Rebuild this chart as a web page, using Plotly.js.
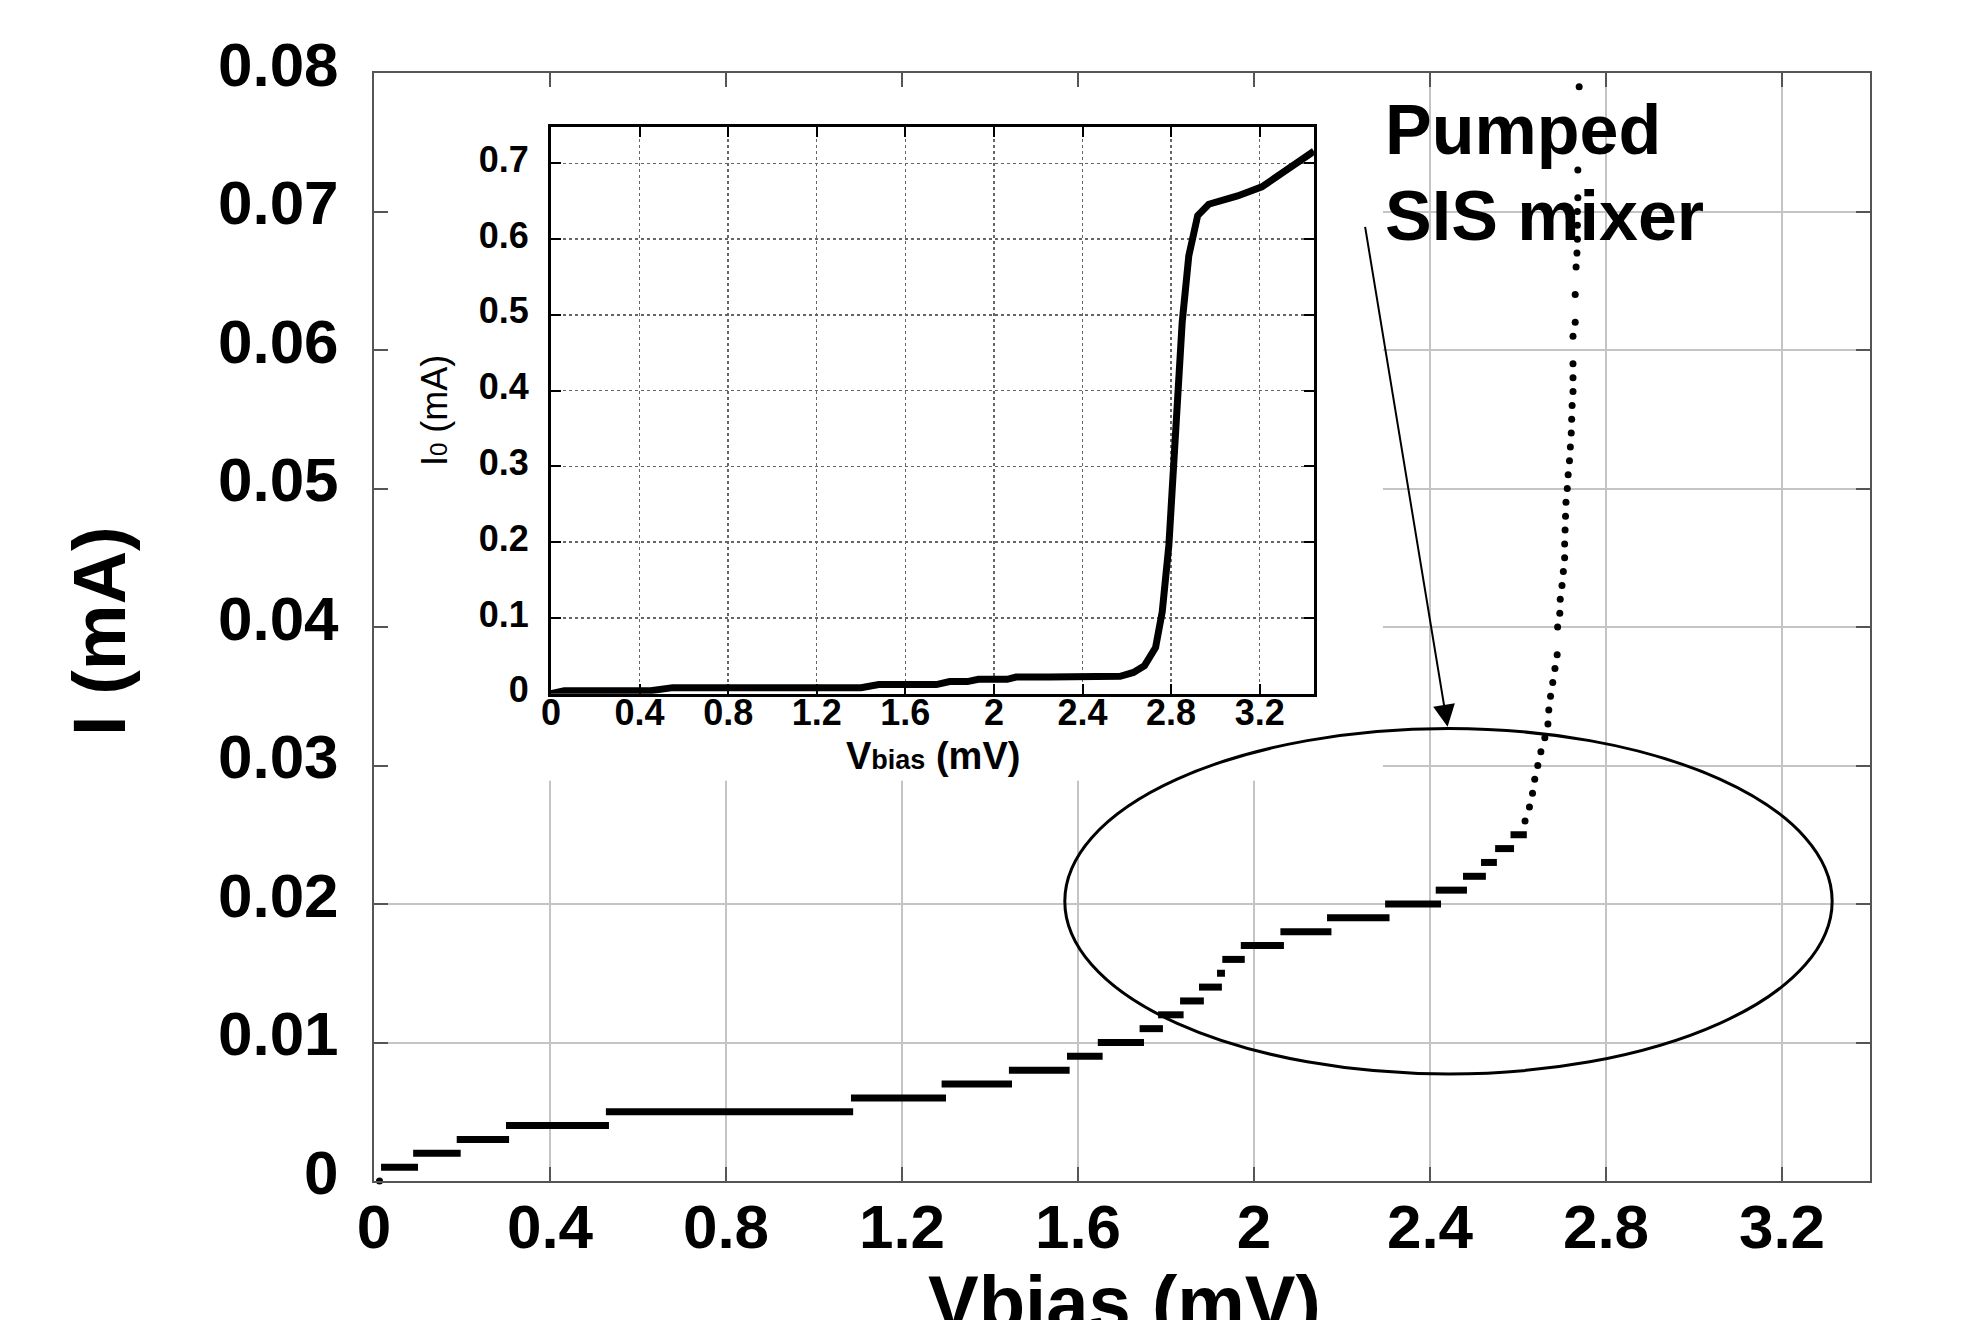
<!DOCTYPE html>
<html>
<head>
<meta charset="utf-8">
<script src="https://cdn.plot.ly/plotly-3.0.1.min.js"></script>
<style>html,body{margin:0;padding:0;background:#fff;}#chart{width:1974px;height:1320px;}</style>
</head>
<body>
<div id="chart"></div>
<script>
// ---- Main plot: pumped SIS mixer I-V (quantized current steps, mA) ----
const stepStart = [0.016, 0.089, 0.188, 0.300, 0.527, 1.084, 1.290, 1.443, 1.575, 1.645, 1.740, 1.782, 1.832, 1.875, 1.916, 1.928, 1.970, 2.060, 2.166, 2.298, 2.413, 2.475, 2.516, 2.548, 2.583];
const stepEnd   = [0.100, 0.197, 0.307, 0.534, 1.089, 1.300, 1.450, 1.581, 1.656, 1.750, 1.793, 1.840, 1.886, 1.927, 1.934, 1.979, 2.068, 2.176, 2.308, 2.425, 2.484, 2.527, 2.552, 2.591, 2.620];
const stepLevel = [0.001, 0.002, 0.003, 0.004, 0.005, 0.006, 0.007, 0.008, 0.009, 0.010, 0.011, 0.012, 0.013, 0.014, 0.015, 0.016, 0.017, 0.018, 0.019, 0.020, 0.021, 0.022, 0.023, 0.024, 0.025];

const dotV = [0.0125, 2.616, 2.626, 2.633, 2.638, 2.645, 2.652, 2.661, 2.668, 2.670, 2.674, 2.679, 2.684, 2.689, 2.690, 2.695, 2.696, 2.700, 2.703, 2.706, 2.706, 2.707, 2.708, 2.709, 2.712, 2.714, 2.717, 2.719, 2.721, 2.722, 2.723, 2.725, 2.725, 2.725, 2.725, 2.730, 2.730, 2.732, 2.734, 2.735, 2.735, 2.735, 2.736, 2.736, 2.739];
const dotI = [0.000, 0.026, 0.027, 0.028, 0.029, 0.030, 0.031, 0.032, 0.033, 0.034, 0.035, 0.036, 0.037, 0.038, 0.040, 0.041, 0.042, 0.043, 0.044, 0.045, 0.046, 0.047, 0.048, 0.049, 0.050, 0.051, 0.052, 0.053, 0.054, 0.055, 0.056, 0.057, 0.058, 0.059, 0.061, 0.062, 0.064, 0.066, 0.067, 0.068, 0.069, 0.070, 0.071, 0.073, 0.079];

// ---- Inset: unpumped I0-V curve ----
const insetV = [0, 0.06, 0.45, 0.55, 1.40, 1.48, 1.74, 1.80, 1.88, 1.93, 2.06, 2.10, 2.25, 2.57, 2.63, 2.68, 2.73, 2.76, 2.79, 2.81, 2.825, 2.85, 2.88, 2.92, 2.97, 3.10, 3.21, 3.32, 3.445];
const insetI = [0, 0.004, 0.004, 0.008, 0.008, 0.012, 0.012, 0.016, 0.016, 0.019, 0.019, 0.022, 0.022, 0.023, 0.028, 0.037, 0.061, 0.108, 0.196, 0.296, 0.402, 0.490, 0.578, 0.631, 0.646, 0.657, 0.669, 0.690, 0.716];

// ---- Tick labels ----
const xTickVals = [0, 0.4, 0.8, 1.2, 1.6, 2, 2.4, 2.8, 3.2];
const xTickText = ['0', '0.4', '0.8', '1.2', '1.6', '2', '2.4', '2.8', '3.2'];
const mainYTickVals = [0, 0.01, 0.02, 0.03, 0.04, 0.05, 0.06, 0.07, 0.08];
const mainYTickText = ['0', '0.01', '0.02', '0.03', '0.04', '0.05', '0.06', '0.07', '0.08'];
const insetYTickVals = [0, 0.1, 0.2, 0.3, 0.4, 0.5, 0.6, 0.7];
const insetYTickText = ['0', '0.1', '0.2', '0.3', '0.4', '0.5', '0.6', '0.7'];

const FONT = 'Liberation Sans, Arial, Helvetica, sans-serif';

const stepX = [], stepY = [];
for (let i = 0; i < stepLevel.length; i++) {
  stepX.push(stepStart[i], stepEnd[i], null);
  stepY.push(stepLevel[i], stepLevel[i], null);
}

const traces = [
  {type: 'scatter', mode: 'lines', x: stepX, y: stepY, xaxis: 'x', yaxis: 'y',
   line: {color: '#000', width: 7}, connectgaps: false, hoverinfo: 'skip', showlegend: false},
  {type: 'scatter', mode: 'markers', x: dotV, y: dotI, xaxis: 'x', yaxis: 'y',
   marker: {color: '#000', size: 7}, cliponaxis: false, hoverinfo: 'skip', showlegend: false},
  {type: 'scatter', mode: 'lines', x: insetV, y: insetI, xaxis: 'x2', yaxis: 'y2',
   line: {color: '#000', width: 7}, hoverinfo: 'skip', showlegend: false}
];

const mainAxisCommon = {
  ticks: 'inside', ticklen: 14, tickwidth: 2, tickcolor: '#555',
  showline: true, linecolor: '#555', linewidth: 2, mirror: 'ticks',
  showgrid: true, gridcolor: '#c4c4c4', gridwidth: 2, zeroline: false,
  tickfont: {family: FONT, size: 62, color: '#000', weight: 'bold'}
};
const insetAxisCommon = {
  ticks: 'inside', ticklen: 10, tickwidth: 2, tickcolor: '#000',
  showline: true, linecolor: '#000', linewidth: 3, mirror: 'ticks',
  showgrid: true, gridcolor: '#666', gridwidth: 1.5, griddash: 'dot', zeroline: false,
  tickfont: {family: FONT, size: 36, color: '#000', weight: 'bold'}
};

const layout = {
  width: 1974, height: 1320,
  margin: {l: 374, r: 104, t: 73, b: 139, pad: 0},
  paper_bgcolor: '#fff', plot_bgcolor: '#fff',
  showlegend: false,
  xaxis: Object.assign({}, mainAxisCommon, {domain: [0, 1], anchor: 'y', range: [0, 3.4],
    tickmode: 'array', tickvals: xTickVals, ticktext: xTickText, ticklabelstandoff: -9}),
  yaxis: Object.assign({}, mainAxisCommon, {domain: [0, 1], anchor: 'x', range: [0, 0.08],
    tickmode: 'array', tickvals: mainYTickVals, ticktext: mainYTickText, ticklabelstandoff: 21, ticklabelshift: -9}),
  xaxis2: Object.assign({}, insetAxisCommon, {domain: [0.1183, 0.6283], anchor: 'y2', range: [0, 3.445],
    tickmode: 'array', tickvals: xTickVals, ticktext: xTickText, ticklabelstandoff: -15}),
  yaxis2: Object.assign({}, insetAxisCommon, {domain: [0.4398, 0.9513], anchor: 'x2', range: [0, 0.748],
    tickmode: 'array', tickvals: insetYTickVals, ticktext: insetYTickText, ticklabelstandoff: 12, ticklabelshift: -4}),
  shapes: [
    {type: 'rect', xref: 'x', yref: 'y', x0: 0, x1: 2.293, y0: 0.0289, y1: 0.08,
     fillcolor: '#fff', line: {width: 0}, layer: 'between'},
    {type: 'circle', xref: 'x', yref: 'y', x0: 1.570, x1: 3.314, y0: 0.00773, y1: 0.03267,
     line: {color: '#000', width: 3}, layer: 'above'}
  ],
  annotations: [
    {text: 'Pumped', xref: 'paper', yref: 'paper', x: 0.6745, y: 0.9486, xanchor: 'left', yanchor: 'middle',
     showarrow: false, font: {family: FONT, size: 70, color: '#000', weight: 'bold'}},
    {text: 'SIS mixer', xref: 'paper', yref: 'paper', x: 0.6745, y: 0.8709, xanchor: 'left', yanchor: 'middle',
     showarrow: false, font: {family: FONT, size: 70, color: '#000', weight: 'bold'}},
    {text: '', xref: 'x', yref: 'y', x: 2.44, y: 0.0328, axref: 'x', ayref: 'y', ax: 2.252, ay: 0.069,
     showarrow: true, arrowhead: 2, arrowsize: 2.2, arrowwidth: 2, arrowcolor: '#000', standoff: 0},
    {text: 'I (mA)', xref: 'paper', yref: 'paper', x: -0.1832, y: 0.4964, xanchor: 'center', yanchor: 'middle',
     textangle: -90, showarrow: false, font: {family: FONT, size: 74, color: '#000', weight: 'bold'}},
    {text: 'Vbias (mV)', xref: 'paper', yref: 'paper', x: 0.502, y: -0.1095, xanchor: 'center', yanchor: 'middle',
     showarrow: false, font: {family: FONT, size: 76, color: '#000', weight: 'bold'}},
    {text: 'I<span style="font-size:24px">0</span> (mA)', xref: 'paper', yref: 'paper', x: 0.0401, y: 0.6958,
     xanchor: 'center', yanchor: 'middle', textangle: -90, showarrow: false,
     font: {family: FONT, size: 36, color: '#000'}},
    {text: 'V<span style="font-size:27px">bias</span> (mV)', xref: 'paper', yref: 'paper', x: 0.3737, y: 0.384,
     xanchor: 'center', yanchor: 'middle', showarrow: false,
     font: {family: FONT, size: 38, color: '#000', weight: 'bold'}}
  ]
};

Plotly.newPlot('chart', traces, layout, {staticPlot: true, displayModeBar: false});
</script>
</body>
</html>
